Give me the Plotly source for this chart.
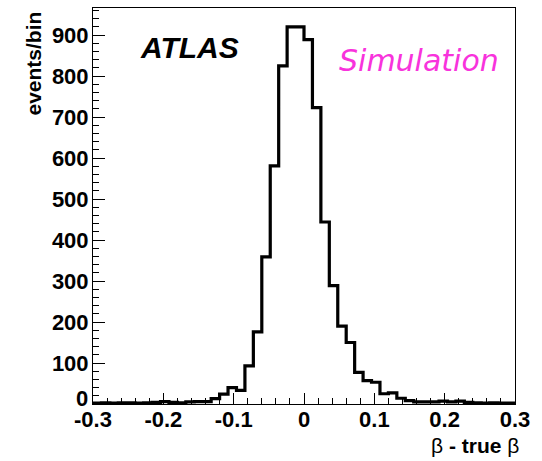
import numpy as np
import plotly.graph_objects as go

# Histogram: 50 bins of width 0.012 from -0.3 to 0.3
x_min = -0.3
x_max = 0.3
n_bins = 50
counts = [2, 3, 2, 3, 3, 2, 3, 4, 6, 4,
          3, 5, 6, 6, 13, 24, 40, 33, 93, 176,
          359, 581, 825, 920, 920, 889, 723, 444, 289, 190,
          150, 77, 57, 53, 25, 27, 14, 8, 5, 5,
          5, 7, 5, 7, 4, 3, 2, 3, 2, 2]

x_tick_vals = [-0.3, -0.2, -0.1, 0.0, 0.1, 0.2, 0.3]
x_tick_text = ["-0.3", "-0.2", "-0.1", "0", "0.1", "0.2", "0.3"]
y_tick_vals = [0, 100, 200, 300, 400, 500, 600, 700, 800, 900]
y_tick_text = [str(v) for v in y_tick_vals]

edges = np.linspace(x_min, x_max, n_bins + 1)
xs = list(edges)
ys = list(counts) + [counts[-1]]

fig = go.Figure()
fig.add_trace(go.Scatter(
    x=xs, y=ys, mode="lines",
    line=dict(color="black", width=3.2, shape="hv"),
    hoverinfo="skip", showlegend=False,
))

tick_font = dict(family="Liberation Sans, Arial, sans-serif", size=22, color="black", weight="bold")

# ROOT lifts the label at the bottom end of the y axis; draw "0" separately
y_text_shown = ["" if v == 0 else t for v, t in zip(y_tick_vals, y_tick_text)]

fig.update_layout(
    width=542, height=461,
    margin=dict(l=93, r=27, t=8, b=57),
    paper_bgcolor="white", plot_bgcolor="white",
    showlegend=False,
    xaxis=dict(
        range=[x_min, x_max],
        tickmode="array", tickvals=x_tick_vals, ticktext=x_tick_text,
        ticks="inside", ticklen=11, tickwidth=1, tickcolor="black",
        minor=dict(dtick=0.02, tick0=0, ticks="inside", ticklen=6, tickcolor="black", tickwidth=1),
        showline=True, linecolor="black", linewidth=1, mirror=True,
        showgrid=False, zeroline=False,
        tickfont=tick_font, ticklabelstandoff=-4,
    ),
    yaxis=dict(
        range=[0, 966],
        tickmode="array", tickvals=y_tick_vals, ticktext=y_text_shown,
        ticks="inside", ticklen=12, tickwidth=1, tickcolor="black",
        minor=dict(dtick=20, tick0=0, ticks="inside", ticklen=6, tickcolor="black", tickwidth=1),
        showline=True, linecolor="black", linewidth=1, mirror=True,
        showgrid=False, zeroline=False,
        tickfont=tick_font, ticklabelstandoff=-1,
    ),
)

fig.add_annotation(
    text="<b>" + y_tick_text[0] + "</b>", xref="paper", yref="y",
    x=0, y=y_tick_vals[0], xanchor="right", yanchor="middle", yshift=6, xshift=-3,
    showarrow=False,
    font=dict(family="Liberation Sans, Arial, sans-serif", size=22, color="black"),
)
fig.add_annotation(
    text="<b><i>ATLAS</i></b>", xref="paper", yref="paper",
    x=0.1066, y=0.899, xanchor="left", yanchor="middle", showarrow=False,
    font=dict(family="Liberation Sans, Arial, sans-serif", size=30, color="black"),
)
fig.add_annotation(
    text="<i>Simulation</i>", xref="paper", yref="paper",
    x=0.578, y=0.867, xanchor="left", yanchor="middle", showarrow=False,
    font=dict(family="DejaVu Sans, sans-serif", size=30, color="#f833dc"),
)
fig.add_annotation(
    text="<b>events/bin</b>", xref="paper", yref="paper",
    x=-0.142, y=0.86, xanchor="center", yanchor="middle", textangle=-90,
    showarrow=False,
    font=dict(family="Liberation Sans, Arial, sans-serif", size=21, color="black"),
)
fig.add_annotation(
    text="β <b>- true</b> β", xref="paper", yref="paper",
    x=1.014, y=-0.106, xanchor="right", yanchor="middle", showarrow=False,
    font=dict(family="Liberation Sans, Arial, sans-serif", size=21, color="black"),
)

fig.write_html("out.html")
